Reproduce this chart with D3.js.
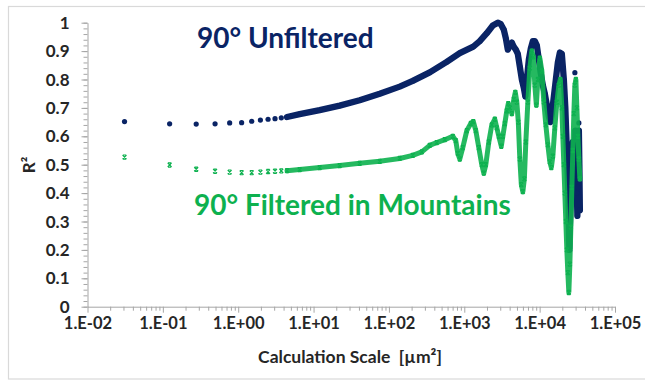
<!DOCTYPE html>
<html><head><meta charset="utf-8">
<script src="https://cdn.jsdelivr.net/npm/d3@7"></script>
<style>
html,body{margin:0;padding:0;background:#fff;}
svg{display:block;}
text{font-family:Lato,"Open Sans",sans-serif;font-weight:700;}
</style></head>
<body>
<svg id="chart" width="645" height="381"></svg>
<script>
// ---------------- data ----------------
const unfilteredX = [0.031,0.123,0.277,0.493,0.770,1.11,1.51,1.97,2.49,3.08,3.73,4.44,
  6.54,12.05,22.2,40.9,75.5,139,207,348,585,871,1317,1606,1990,2391,2785,3052,3346,3557,3781,
  4019,4273,4543,4830,5134,5459,5803,6170,6459,6761,7189,7641,8123,8635,9180,9759,10373,11027,
  11722,12460,13245,13866,14517,15432,16405,17440,18539,19707,20949,21932,22613,23316,24040,
  24410,24787,25170,25951,26758,27589,28446,28884,29781,30241,31191,31674,32160,32655,33159,33669,34195];
const unfilteredY = [0.652,0.644,0.643,0.644,0.647,0.648,0.653,0.657,0.660,0.662,0.665,0.668,
  0.678,0.692,0.708,0.727,0.750,0.775,0.795,0.825,0.862,0.893,0.916,0.935,0.963,0.990,1.000,0.995,0.975,0.945,0.905,
  0.920,0.930,0.915,0.905,0.890,0.845,0.800,0.770,0.740,0.800,0.870,0.910,0.935,0.935,0.920,0.870,0.820,0.780,
  0.750,0.710,0.670,0.650,0.680,0.740,0.800,0.860,0.895,0.890,0.800,0.700,0.600,0.500,0.400,
  0.300,0.200,0.280,0.380,0.500,0.580,0.550,0.450,0.620,0.500,0.400,0.320,0.420,0.550,0.620,0.500,0.340];
const unfilteredLooseX = [29330, 33159];
const unfilteredLooseY = [0.824, 0.647];

const filteredX = [0.031,0.123,0.277,0.493,0.770,1.11,1.51,1.97,2.49,3.08,3.73,4.44,
  6.54,12.05,22.2,40.9,75.5,139,207,273,348,431,551,704,771,820,871,955,1080,1220,1317,1422,1558,
  1708,1816,1930,2116,2318,2542,2701,2872,3099,3246,3450,3667,3839,4019,4273,4543,4756,4980,
  5213,5459,5715,5984,6265,6559,6972,7412,7879,8248,8635,9042,9466,10062,10695,11369,12085,
  12847,13656,14296,14967,15911,16914,17981,18825,19707,20319,20949,21600,22270,22962,23675,
  24410,25170,25951,26758,27589,28446,29330,30241,31191,32160,33159,34195];
const filteredY = [0.527,0.499,0.484,0.477,0.474,0.472,0.472,0.474,0.476,0.477,0.478,0.479,
  0.483,0.490,0.497,0.505,0.512,0.522,0.533,0.545,0.568,0.578,0.588,0.600,0.585,0.540,0.520,0.560,0.620,0.645,0.652,0.620,0.560,
  0.500,0.470,0.500,0.580,0.640,0.660,0.630,0.600,0.565,0.600,0.645,0.690,0.715,0.700,0.680,0.730,0.755,0.720,
  0.650,0.520,0.430,0.405,0.450,0.580,0.720,0.840,0.900,0.880,0.780,0.710,0.800,0.875,0.830,0.720,0.640,
  0.570,0.510,0.490,0.530,0.630,0.720,0.780,0.800,0.700,0.600,0.500,0.400,0.300,0.200,0.120,
  0.050,0.150,0.280,0.420,0.550,0.680,0.780,0.800,0.700,0.600,0.520,0.450];

const xTickValues = [1e-2,1e-1,1e0,1e1,1e2,1e3,1e4,1e5];
const xTickLabels = ["1.E-02","1.E-01","1.E+00","1.E+01","1.E+02","1.E+03","1.E+04","1.E+05"];
const yTickValues = [0,0.1,0.2,0.3,0.4,0.5,0.6,0.7,0.8,0.9,1];
const yTickLabels = ["0","0.1","0.2","0.3","0.4","0.5","0.6","0.7","0.8","0.9","1"];
const seriesLabels = ["90° Unfiltered","90° Filtered in Mountains"];
const xTitle = "Calculation Scale  [µm²]";
const yTitle = "R²";

// ---------------- layout / style ----------------
const NAVY = "#0a2465", GREEN = "#0db14f", AXIS = "#a6a6a6", LABEL = "#262626";
const DENSE_FROM = 4; // points at or beyond this scale merge into a continuous band

const svg = d3.select("#chart");
svg.append("rect").attr("x",8.5).attr("y",6.5).attr("width",660).attr("height",372.5)
  .attr("fill","#fff").attr("stroke","#d9d9d9").attr("stroke-width",1.2);

const x = d3.scaleLog().domain([1e-2,1e5]).range([87.5,615]);
const y = d3.scaleLinear().domain([0,1]).range([306.7,22.7]);

// minor ticks
const xMinor = [];
for (let e=-2; e<5; e++) for (let m=2; m<=9; m++) xMinor.push(m*Math.pow(10,e));
const yMinor = d3.range(0,1.0001,0.02);

const gx = svg.append("g").attr("transform",`translate(0,${y(0)})`);
gx.append("g").call(d3.axisBottom(x).tickValues(xMinor).tickSize(4).tickFormat(""))
  .call(g=>{g.select(".domain").remove(); g.selectAll("line").attr("stroke",AXIS);});
gx.append("g").call(d3.axisBottom(x).tickValues(xTickValues).tickSize(6).tickSizeOuter(0)
  .tickFormat((d,i)=>xTickLabels[i]))
  .call(g=>{g.select(".domain").attr("stroke",AXIS);
    g.selectAll("line").attr("stroke",AXIS);
    g.selectAll("text").attr("fill",LABEL).attr("font-size",16.5).attr("dy",0).attr("y",22.5);});

const gy = svg.append("g").attr("transform",`translate(${x(1e-2)},0)`);
gy.append("g").call(d3.axisLeft(y).tickValues(yMinor).tickSize(4).tickFormat(""))
  .call(g=>{g.select(".domain").remove(); g.selectAll("line").attr("stroke",AXIS);});
gy.append("g").call(d3.axisLeft(y).tickValues(yTickValues).tickSize(6).tickSizeOuter(0)
  .tickFormat((d,i)=>yTickLabels[i]))
  .call(g=>{g.select(".domain").attr("stroke",AXIS);
    g.selectAll("line").attr("stroke",AXIS);
    g.selectAll("text").attr("fill",LABEL).attr("font-size",17).attr("x",-18).attr("dy","0.33em");});

// series
const unf = unfilteredX.map((v,i)=>({x:v,y:unfilteredY[i]}));
const fil = filteredX.map((v,i)=>({x:v,y:filteredY[i]}));
const line = d3.line().x(d=>x(d.x)).y(d=>y(d.y));

const plot = svg.append("g");
plot.append("path").datum(unf.filter(d=>d.x>=DENSE_FROM)).attr("d",line)
  .attr("fill","none").attr("stroke",NAVY).attr("stroke-width",6.3)
  .attr("stroke-linejoin","round").attr("stroke-linecap","round");
plot.selectAll(".dotU").data(unf.concat(unfilteredLooseX.map((v,i)=>({x:v,y:unfilteredLooseY[i]}))))
  .join("circle").attr("class","dotU").attr("cx",d=>x(d.x)).attr("cy",d=>y(d.y))
  .attr("r",2.6).attr("fill",NAVY);

plot.append("path").datum(fil.filter(d=>d.x>=DENSE_FROM)).attr("d",line)
  .attr("fill","none").attr("stroke",GREEN).attr("stroke-width",5).attr("stroke-opacity",0.9)
  .attr("stroke-linejoin","round").attr("stroke-linecap","round");
plot.selectAll(".mkF").data(fil).join("path").attr("class","mkF")
  .attr("transform",d=>`translate(${x(d.x)},${y(d.y)})`)
  .attr("d","M-2,-2L2,2M2,-2L-2,2M-1.6,-2.1H1.6M-1.6,2.1H1.6")
  .attr("stroke",GREEN).attr("stroke-width",1.1).attr("fill","none");

// series labels
svg.append("text").attr("x",197).attr("y",48).attr("font-size",28).attr("fill",NAVY).text(seriesLabels[0]);
svg.append("text").attr("x",194).attr("y",215).attr("font-size",28).attr("fill",GREEN).text(seriesLabels[1]);

// axis titles
svg.append("text").attr("x",350).attr("y",363).attr("text-anchor","middle").attr("font-size",17.5)
  .attr("fill",LABEL).style("white-space","pre").text(xTitle);
svg.append("text").attr("transform","translate(35,165) rotate(-90)").attr("text-anchor","middle")
  .attr("font-size",17).attr("fill",LABEL).text(yTitle);
</script>
</body></html>
